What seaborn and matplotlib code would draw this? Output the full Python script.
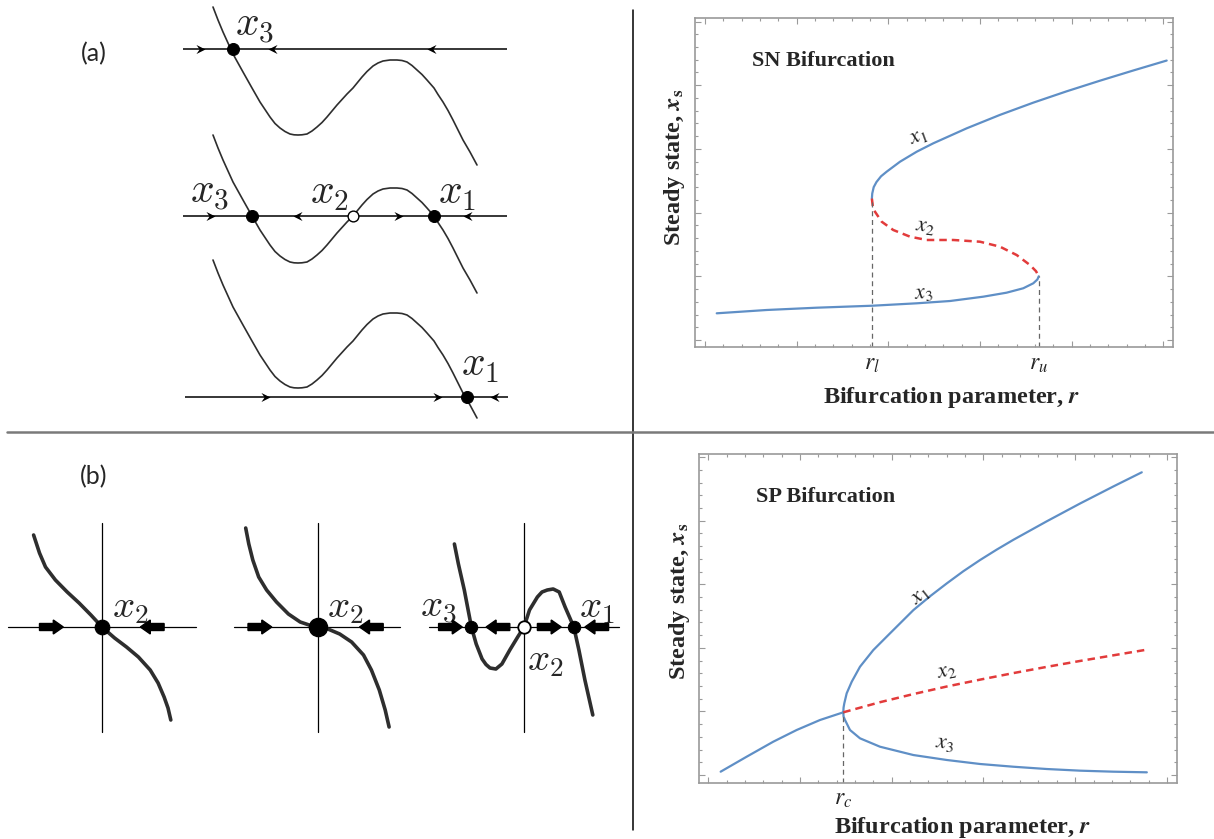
import matplotlib
matplotlib.use("Agg")
import matplotlib.pyplot as plt
from matplotlib.lines import Line2D
from matplotlib.path import Path
from matplotlib.ticker import MultipleLocator
import matplotlib.transforms as mtransforms
import seaborn as sns

# ---------------------------------------------------------------- data
# (a) phase-line sketch: one curve shape f(x), shifted for three parameter values
phase_x = [43, 48, 53, 58, 63, 68, 73, 77.5, 82, 90, 100, 105, 110, 115, 120, 124, 128,
           132, 137, 142, 147, 152, 157, 162, 167, 172, 177, 183, 192, 197, 203, 208,
           213, 220, 227, 232, 237, 242, 247, 252, 257, 264, 268, 273, 278, 283, 288,
           293, 300, 307]
phase_f = [81, 68, 56, 45, 34, 25, 16, 8, 0, -14, -29, -35.5, -40, -43.5, -46, -46.8,
           -47, -46.8, -46, -43, -39, -34.5, -29, -23, -17, -11.5, -6, 0, 11, 16.5, 22,
           25, 27, 28, 28, 27.5, 26, 22.5, 18, 13.5, 8, 0, -6.5, -14, -22.5, -32, -42,
           -52, -64, -77]
phase_shift = [-39, 0, 56]
phase_stable = [[63], [82, 264], [297]]
phase_unstable = [[], [183], []]
phase_flow_right = [[35], [45, 233], [100, 272]]
phase_flow_left = [[98, 257], [123, 293], [320]]
phase_names = [["$x_3$"], ["$x_3$", "$x_2$", "$x_1$"], ["$x_1$"]]

# (b) pitchfork phase portraits: before, at and after the bifurcation
pf1_x = [-68.4, -62.5, -56.5, -46.6, -34.8, -22.9, -11.1, 0, 12.6, 24.5, 36.4, 48.2,
         56.1, 62.1, 66.0, 68.8]
pf1_f = [92, 74, 60, 47, 35, 24, 12, 0, -11, -20, -30, -43, -56, -70, -81, -93]
pf2_x = [-72.3, -69.2, -65.2, -59.3, -51.4, -41.5, -29.6, -17.8, -5.9, 0, 9.9, 21.7,
         33.6, 45.5, 53.4, 61.3, 67.2, 71.1]
pf2_f = [99, 83, 67, 50, 37, 25, 13, 5, 1, 0, -2, -7, -15, -28, -43, -63, -83, -100]
pf3_x = [-69.6, -65.6, -59.7, -52.6, -47.8, -41.9, -38.0, -34.0, -28.1, -22.1, -14.2,
         -6.3, 0, 5.5, 13.4, 18.0, 23.3, 29.2, 35.2, 41.1, 49.8, 54.9, 60.9, 68.8]
pf3_f = [83, 63, 37, 0, -17, -32, -37.5, -41, -42, -37, -23, -10, 0, 17, 30, 35, 37,
         38, 35, 20, 0, -23, -53, -88]
pf_stable = [[0], [0], [-52.6, 49.8]]
pf_unstable = [[], [], [0]]
pf_flows = [[(-62.5, -38.7), (62.1, 38.3)],
            [(-70.0, -46.2), (65.2, 41.5)],
            [(-85.4, -61.7), (-14.2, -37.9), (13.4, 37.2), (84.6, 60.9)]]

# saddle-node (SN) bifurcation diagram
sn_r_l, sn_r_u = 1.82, 3.64
sn_r1 = [1.82, 1.824, 1.840, 1.870, 1.920, 1.981, 2.127, 2.309, 2.490, 2.854, 3.217,
         3.580, 3.944, 4.308, 4.671, 5.035]
sn_x1 = [2.22, 2.30, 2.40, 2.48, 2.57, 2.642, 2.799, 2.956, 3.088, 3.323, 3.534,
         3.726, 3.904, 4.071, 4.231, 4.387]
sn_r2 = [1.82, 1.830, 1.854, 1.927, 2.053, 2.236, 2.418, 2.708, 2.999, 3.217, 3.399,
         3.544, 3.610, 3.64]
sn_x2 = [2.22, 2.10, 2.014, 1.857, 1.727, 1.622, 1.570, 1.570, 1.543, 1.465, 1.334,
         1.177, 1.08, 1.0]
sn_r3 = [0.128, 0.673, 1.218, 1.824, 2.309, 2.672, 3.035, 3.290, 3.471, 3.580, 3.625, 3.64]
sn_x3 = [0.419, 0.471, 0.507, 0.538, 0.576, 0.612, 0.680, 0.743, 0.812, 0.890, 0.95, 1.0]

# supercritical pitchfork (SP) bifurcation diagram
sp_r_c = 1.472
sp_r0 = [0.135, 0.419, 0.709, 0.964, 1.218, 1.472]
sp_x0 = [0.052, 0.288, 0.524, 0.708, 0.865, 0.986]
sp_r1 = [1.472, 1.475, 1.483, 1.509, 1.564, 1.654, 1.799, 1.981, 2.236, 2.418, 2.600,
         2.780, 2.963, 3.145, 3.326, 3.690, 4.053, 4.417, 4.726]
sp_x1 = [0.986, 1.06, 1.127, 1.285, 1.467, 1.703, 1.965, 2.228, 2.594, 2.812, 3.014,
         3.205, 3.382, 3.546, 3.700, 3.991, 4.271, 4.540, 4.762]
sp_r2 = [1.472, 1.872, 2.236, 2.600, 2.963, 3.326, 3.690, 4.053, 4.417, 4.798]
sp_x2 = [0.986, 1.145, 1.273, 1.392, 1.500, 1.603, 1.701, 1.794, 1.883, 1.976]
sp_r3 = [1.472, 1.475, 1.491, 1.545, 1.654, 1.872, 2.236, 2.600, 2.963, 3.326, 3.690,
         4.053, 4.417, 4.781]
sp_x3 = [0.986, 0.92, 0.865, 0.708, 0.577, 0.445, 0.314, 0.236, 0.173, 0.130, 0.094,
         0.068, 0.052, 0.042]

# ---------------------------------------------------------------- style
sns.set_style("white")
plt.rcParams["font.family"] = ["DejaVu Sans"]

BLUE = "#5f8fc6"
RED = "#e23b3b"
FRAME = "#9a9a9a"
INK = "#2e2e2e"
SERIF = "Liberation Serif"

W, H = 1214, 839
fig = plt.figure(figsize=(W / 100, H / 100), dpi=100)


def px_axes(left, top, width, height):
    ax = fig.add_axes([left / W, 1 - (top + height) / H, width / W, height / H])
    ax.set_facecolor("none")
    return ax


# barbed arrowheads with the tip at the marker origin
head_right = Path([(-2, -1), (0, 0), (-2, 1), (-1.3, 0), (-2, -1)],
                  [Path.MOVETO, Path.LINETO, Path.LINETO, Path.LINETO, Path.CLOSEPOLY])
head_left = Path([(2, -1), (0, 0), (2, 1), (1.3, 0), (2, -1)],
                 [Path.MOVETO, Path.LINETO, Path.LINETO, Path.LINETO, Path.CLOSEPOLY])

# ---------------------------------------------------------------- (a)
a_rows = [(0, 170, (-121, 49)), (125, 180, (-89, 91)), (255, 175, (-33, 142))]
a_line_ext = [(13, 337), (13, 337), (15, 338)]
a_label_pos = [[(85, 24)], [(40, 24), (159, 24), (287, 24)], [(310, 33)]]

for i, (top, height, ylim) in enumerate(a_rows):
    ax = px_axes(170, top, 360, height)
    ax.set_xlim(0, 360)
    ax.set_ylim(*ylim)
    ax.set_axis_off()
    x0, x1 = a_line_ext[i]
    ax.plot([x0, x1], [0, 0], color="black", lw=1.1, solid_capstyle="butt")
    curve = [v + phase_shift[i] for v in phase_f]
    sns.lineplot(x=phase_x, y=curve, ax=ax, color=INK, lw=1.2, sort=False,
                 estimator=None)
    for xr in phase_flow_right[i]:
        ax.plot(xr, 0, marker=head_right, ms=13, color="black", mew=0)
    for xl in phase_flow_left[i]:
        ax.plot(xl, 0, marker=head_left, ms=13, color="black", mew=0)
    if phase_stable[i]:
        sns.scatterplot(x=phase_stable[i], y=[0] * len(phase_stable[i]), ax=ax,
                        s=75, color="black", edgecolor="black", zorder=5)
    if phase_unstable[i]:
        sns.scatterplot(x=phase_unstable[i], y=[0] * len(phase_unstable[i]), ax=ax,
                        s=60, color="white", edgecolor="black", linewidth=1.0, zorder=5)
    for name, (lx, ly) in zip(phase_names[i], a_label_pos[i]):
        ax.text(lx, ly, name, fontsize=30, math_fontfamily="cm",
                ha="center", va="center")

fig.text(94 / W, 1 - 54 / H, "(a)", fontsize=18, family="Lato",
         ha="center", va="center")
fig.text(94 / W, 1 - 477 / H, "(b)", fontsize=18, family="Lato",
         ha="center", va="center")

# ---------------------------------------------------------------- (b)
b_origins = [102, 318, 524]
b_hline = [(-94, 94), (-84, 82), (-95, 94.5)]
b_curves = [(pf1_x, pf1_f), (pf2_x, pf2_f), (pf3_x, pf3_f)]
b_dot_size = [110, 170, 80]
b_labels = [[("$x_2$", 28.5, 20)], [("$x_2$", 27.7, 20)],
            [("$x_3$", -85.4, 20), ("$x_1$", 72.7, 20), ("$x_2$", 21.3, -33)]]

for i, ox in enumerate(b_origins):
    ax = px_axes(ox - 100, 517, 200, 220)
    ax.set_xlim(-100, 100)
    ax.set_ylim(-110, 110)
    ax.set_axis_off()
    h0, h1 = b_hline[i]
    ax.plot([h0, h1], [0, 0], color="black", lw=0.9)
    ax.plot([0, 0], [104, -105], color="black", lw=0.9)
    cx, cf = b_curves[i]
    sns.lineplot(x=cx, y=cf, ax=ax, color=INK, lw=2.6, sort=False, estimator=None)
    for xs, xe in pf_flows[i]:
        ax.arrow(xs, 0, xe - xs, 0, width=7, head_width=14, head_length=10,
                 length_includes_head=True, color="black", zorder=4)
    sns.scatterplot(x=pf_stable[i], y=[0] * len(pf_stable[i]), ax=ax,
                    s=b_dot_size[i], color="black", edgecolor="black", zorder=6)
    if pf_unstable[i]:
        sns.scatterplot(x=pf_unstable[i], y=[0] * len(pf_unstable[i]), ax=ax,
                        s=80, color="white", edgecolor="black", linewidth=1.3, zorder=6)
    for name, lx, ly in b_labels[i]:
        ax.text(lx, ly, name, fontsize=28, math_fontfamily="cm",
                ha="center", va="center")


# ---------------------------------------------------------------- bifurcation diagrams
def framed(ax, xlim, ylim):
    ax.set_xlim(*xlim)
    ax.set_ylim(*ylim)
    for s in ax.spines.values():
        s.set_visible(True)
        s.set_color(FRAME)
        s.set_linewidth(1.2)
    ax.xaxis.set_major_locator(MultipleLocator(1))
    ax.xaxis.set_minor_locator(MultipleLocator(0.2))
    ax.yaxis.set_major_locator(MultipleLocator(1))
    ax.yaxis.set_minor_locator(MultipleLocator(0.2))
    ax.tick_params(which="both", direction="in", top=True, bottom=True, left=True,
                   right=True, labelbottom=False, labelleft=False, color=FRAME,
                   width=0.8)
    ax.tick_params(which="major", length=4.5)
    ax.tick_params(which="minor", length=2.5)


def labels(ax, title, title_y, xl_pos, yl_pos):
    ax.text(0.12, title_y, title, transform=ax.transAxes, family=SERIF,
            fontweight="bold", fontsize=16, ha="left", va="center")
    ax.text(*xl_pos, r"Bifurcation parameter, $\mathbfit{r}$", transform=ax.transAxes,
            family=SERIF, fontweight="bold", fontsize=17.5, math_fontfamily="stix",
            ha="center", va="center")
    ax.text(*yl_pos, r"Steady state, $\mathbfit{x}_\mathbf{s}$", transform=ax.transAxes,
            family=SERIF, fontweight="bold", fontsize=17.5, math_fontfamily="stix",
            ha="center", va="center", rotation=90)


def curve_label(ax, x, y, s, rot=0):
    ax.text(x, y, s, fontsize=16, math_fontfamily="stix", ha="center",
            va="center", rotation=rot, color="#222222")


# SN diagram
ax = px_axes(695, 18, 478, 329)
framed(ax, (-0.109, 5.104), (-0.11, 5.055))
sns.lineplot(x=sn_r1, y=sn_x1, ax=ax, color=BLUE, lw=1.6, sort=False, estimator=None)
sns.lineplot(x=sn_r3, y=sn_x3, ax=ax, color=BLUE, lw=1.6, sort=False, estimator=None)
sns.lineplot(x=sn_r2, y=sn_x2, ax=ax, color=RED, lw=1.8, sort=False, estimator=None,
             linestyle=(0, (3, 2)))
ax.plot([sn_r_l, sn_r_l], [-0.11, sn_x2[0]], color="#666666", lw=0.9,
        linestyle=(0, (4, 3)))
ax.plot([sn_r_u, sn_r_u], [-0.11, sn_x2[-1]], color="#666666", lw=0.9,
        linestyle=(0, (4, 3)))
curve_label(ax, 2.33, 3.19, "$x_1$", 20)
curve_label(ax, 2.40, 1.78, "$x_2$", -8)
curve_label(ax, 2.38, 0.73, "$x_3$", 5)
tr = mtransforms.blended_transform_factory(ax.transData, ax.transAxes)
ax.text(sn_r_l, -0.05, "$r_l$", transform=tr, fontsize=17, math_fontfamily="stix",
        ha="center", va="center")
ax.text(sn_r_u, -0.05, "$r_u$", transform=tr, fontsize=17, math_fontfamily="stix",
        ha="center", va="center")
ax.set_xlabel("")
ax.set_ylabel("")
labels(ax, "SN Bifurcation", 0.87, (0.536, -0.152), (-0.042, 0.547))

# SP diagram
ax = px_axes(699, 454, 478, 329)
framed(ax, (-0.101, 5.11), (-0.126, 5.05))
sns.lineplot(x=sp_r0, y=sp_x0, ax=ax, color=BLUE, lw=1.6, sort=False, estimator=None)
sns.lineplot(x=sp_r1, y=sp_x1, ax=ax, color=BLUE, lw=1.6, sort=False, estimator=None)
sns.lineplot(x=sp_r3, y=sp_x3, ax=ax, color=BLUE, lw=1.6, sort=False, estimator=None)
sns.lineplot(x=sp_r2, y=sp_x2, ax=ax, color=RED, lw=1.8, sort=False, estimator=None,
             linestyle=(0, (3, 2)))
ax.plot([sp_r_c, sp_r_c], [-0.126, sp_x0[-1]], color="#666666", lw=0.9,
        linestyle=(0, (4, 3)))
curve_label(ax, 2.31, 2.82, "$x_1$", 38)
curve_label(ax, 2.60, 1.64, "$x_2$", 12)
curve_label(ax, 2.58, 0.49, "$x_3$", -8)
tr = mtransforms.blended_transform_factory(ax.transData, ax.transAxes)
ax.text(sp_r_c, -0.045, "$r_c$", transform=tr, fontsize=17, math_fontfamily="stix",
        ha="center", va="center")
ax.set_xlabel("")
ax.set_ylabel("")
labels(ax, "SP Bifurcation", 0.87, (0.552, -0.134), (-0.040, 0.553))

# ---------------------------------------------------------------- dividers
fig.add_artist(Line2D([633 / W, 633 / W], [1 - 10 / H, 1 - 830 / H],
                      color="black", lw=1.1))
fig.add_artist(Line2D([7 / W, 1.0], [1 - 432 / H, 1 - 432 / H],
                      color="#7a7a7a", lw=1.8))

fig.savefig("out.png", dpi=100)
